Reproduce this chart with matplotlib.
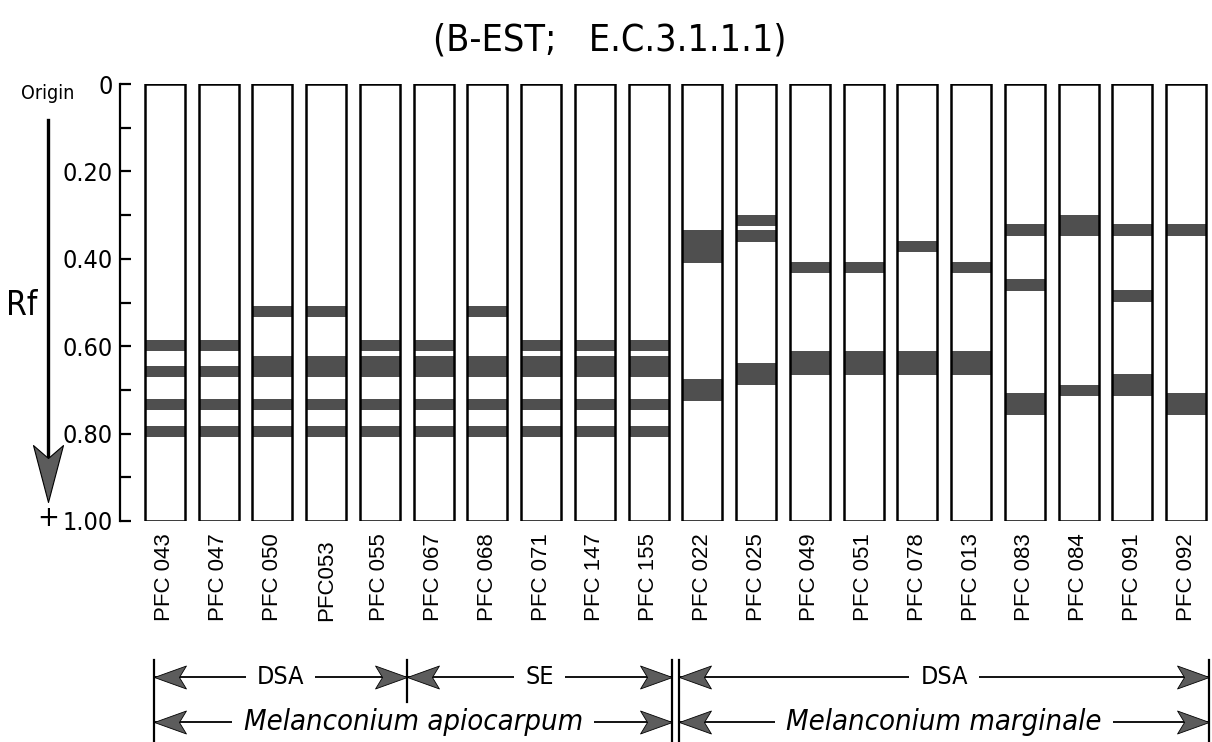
import numpy as np
import matplotlib.pyplot as plt
from matplotlib.path import Path

plt.rcParams['font.family'] = ['DejaVu Sans']
plt.rcParams['font.stretch'] = 'condensed'

# =====================================================
# Data: isolates and their band positions (Rf, top -> bottom)
# =====================================================
isolates = ["PFC 043", "PFC 047", "PFC 050", "PFC053", "PFC 055",
            "PFC 067", "PFC 068", "PFC 071", "PFC 147", "PFC 155",
            "PFC 022", "PFC 025", "PFC 049", "PFC 051", "PFC 078",
            "PFC 013", "PFC 083", "PFC 084", "PFC 091", "PFC 092"]

band_top = [
    [0.585, 0.645, 0.720, 0.783],
    [0.585, 0.645, 0.720, 0.783],
    [0.508, 0.622, 0.720, 0.783],
    [0.508, 0.622, 0.720, 0.783],
    [0.585, 0.622, 0.720, 0.783],
    [0.585, 0.622, 0.720, 0.783],
    [0.508, 0.622, 0.720, 0.783],
    [0.585, 0.622, 0.720, 0.783],
    [0.585, 0.622, 0.720, 0.783],
    [0.585, 0.622, 0.720, 0.783],
    [0.334, 0.675],
    [0.300, 0.334, 0.638],
    [0.407, 0.611],
    [0.407, 0.611],
    [0.359, 0.611],
    [0.407, 0.611],
    [0.321, 0.446, 0.708],
    [0.300, 0.689],
    [0.321, 0.471, 0.664],
    [0.321, 0.708],
]
band_bottom = [
    [0.610, 0.670, 0.745, 0.808],
    [0.610, 0.670, 0.745, 0.808],
    [0.534, 0.670, 0.745, 0.808],
    [0.534, 0.670, 0.745, 0.808],
    [0.610, 0.670, 0.745, 0.808],
    [0.610, 0.670, 0.745, 0.808],
    [0.534, 0.670, 0.745, 0.808],
    [0.610, 0.670, 0.745, 0.808],
    [0.610, 0.670, 0.745, 0.808],
    [0.610, 0.670, 0.745, 0.808],
    [0.409, 0.725],
    [0.326, 0.361, 0.689],
    [0.433, 0.666],
    [0.433, 0.666],
    [0.385, 0.666],
    [0.433, 0.666],
    [0.348, 0.473, 0.758],
    [0.348, 0.715],
    [0.348, 0.498, 0.715],
    [0.348, 0.758],
]

rf_ticks = [0, 0.1, 0.2, 0.3, 0.4, 0.5, 0.6, 0.7, 0.8, 0.9, 1.0]
rf_labels = ["0", "", "0.20", "", "0.40", "", "0.60", "", "0.80", "", "1.00"]

# group brackets under the lanes
group_names = ["DSA", "SE", "DSA"]
group_first = [0, 5, 10]
group_last = [4, 9, 19]
species_names = ["Melanconium apiocarpum", "Melanconium marginale"]
species_first = [0, 10]
species_last = [9, 19]

title = "(B-EST;   E.C.3.1.1.1)"

BAND_COLOR = "#4f4f4f"
HEAD_COLOR = "#5c5c5c"
LANE_W = 0.745

# =====================================================
# Figure
# =====================================================
W, H = 1212, 742
fig = plt.figure(figsize=(W / 100, H / 100), dpi=100)
ax = fig.add_axes([120 / W, (H - 521) / H, 1090 / W, 437 / H])

x = np.arange(len(isolates))

# lanes: white background, bands, then outlines on top
ax.bar(x, 1.0, bottom=0, width=LANE_W, color="white", zorder=1)
for i in range(len(isolates)):
    tops = np.array(band_top[i])
    bots = np.array(band_bottom[i])
    ax.bar(np.full(len(tops), i), bots - tops, bottom=tops, width=LANE_W,
           color=BAND_COLOR, edgecolor="none", zorder=2)
ax.bar(x, 1.0, bottom=0, width=LANE_W, fill=False, edgecolor="black",
       linewidth=1.8, zorder=3)

ax.set_xlim(-0.837, 19.446)
ax.set_ylim(1.0, 0.0)

for s in ["top", "right", "bottom"]:
    ax.spines[s].set_visible(False)
ax.spines["left"].set_linewidth(1.6)

ax.set_yticks(rf_ticks)
ax.set_yticklabels(rf_labels, fontsize=18)
ax.tick_params(axis="y", direction="in", length=8, width=1.6, pad=5)

ax.set_xticks(x)
ax.set_xticklabels(isolates, rotation=90, fontsize=16,
                   family=["Liberation Sans", "DejaVu Sans"], stretch="normal")
ax.tick_params(axis="x", length=0, pad=72)
for lbl in ax.get_xticklabels():
    lbl.set_va("bottom")

# =====================================================
# Rf arrow on the left
# =====================================================
ytr = ax.get_yaxis_transform()
ax_x = -0.066
down_head = Path([(0, 0), (-15, 57), (0, 44), (15, 57), (0, 0)],
                 [Path.MOVETO, Path.LINETO, Path.LINETO, Path.LINETO, Path.CLOSEPOLY])
ax.plot([ax_x, ax_x], [0.082, 0.90], transform=ytr, color="black",
        linewidth=2.4, clip_on=False)
ax.plot([ax_x], [0.957], transform=ytr, marker=down_head, markersize=82,
        markerfacecolor=HEAD_COLOR, markeredgecolor="black",
        markeredgewidth=0.8, clip_on=False)
ax.text(ax_x, 0.022, "Origin", transform=ytr, ha="center", va="center", fontsize=14)
ax.text(-0.09, 0.506, "Rf", transform=ytr, ha="center", va="center", fontsize=24)
ax.text(ax_x, 0.993, "+", transform=ytr, ha="center", va="center", fontsize=21)

# =====================================================
# Bracket arrows below the lane labels
# =====================================================
xtr = ax.get_xaxis_transform()
left_head = Path([(0, 0), (32, 11.5), (25, 0), (32, -11.5), (0, 0)],
                 [Path.MOVETO, Path.LINETO, Path.LINETO, Path.LINETO, Path.CLOSEPOLY])
right_head = Path([(0, 0), (-32, 11.5), (-25, 0), (-32, -11.5), (0, 0)],
                  [Path.MOVETO, Path.LINETO, Path.LINETO, Path.LINETO, Path.CLOSEPOLY])

ROW1, ROW2 = -0.357, -0.46
TOP, BOT = -0.318, -0.51
SPLIT = 0.065


def edge_left(first):
    if first == 0:
        return -0.2
    return first - 0.5 + (SPLIT if first in species_first else 0)


def edge_right(last):
    if last == len(isolates) - 1:
        return last + 0.43
    return last + 0.5 - (SPLIT if last in species_last else 0)


def bracket_arrow(x0, x1, y, label, **kw):
    ax.plot([x0, x1], [y, y], transform=xtr, color="black", linewidth=1.3,
            clip_on=False, zorder=1)
    ax.plot([x0], [y], transform=xtr, marker=left_head, markersize=46,
            markerfacecolor=HEAD_COLOR, markeredgecolor="black",
            markeredgewidth=0.6, clip_on=False, zorder=3)
    ax.plot([x1], [y], transform=xtr, marker=right_head, markersize=46,
            markerfacecolor=HEAD_COLOR, markeredgecolor="black",
            markeredgewidth=0.6, clip_on=False, zorder=3)
    ax.text((x0 + x1) / 2, y, label, transform=xtr, ha="center", va="center",
            bbox=dict(facecolor="white", edgecolor="none", pad=8), zorder=2, **kw)


for name, f, l in zip(group_names, group_first, group_last):
    bracket_arrow(edge_left(f), edge_right(l), ROW1, name, fontsize=18)

for name, f, l in zip(species_names, species_first, species_last):
    bracket_arrow(edge_left(f), edge_right(l), ROW2, name, fontsize=21,
                  style="italic")

# vertical bracket lines
v_lines = [edge_left(f) for f in species_first] + [edge_right(l) for l in species_last]
for vx in v_lines:
    ax.plot([vx, vx], [TOP, BOT], transform=xtr, color="black", linewidth=1.6,
            clip_on=False)
for f in group_first:
    if f not in species_first:
        ax.plot([f - 0.5, f - 0.5], [TOP, -0.414], transform=xtr, color="black",
                linewidth=1.6, clip_on=False)

fig.text(610 / W, 1 - 40 / H, title, ha="center", va="center", fontsize=27)

plt.savefig("out.png", dpi=100)
print("Saved: out.png")
